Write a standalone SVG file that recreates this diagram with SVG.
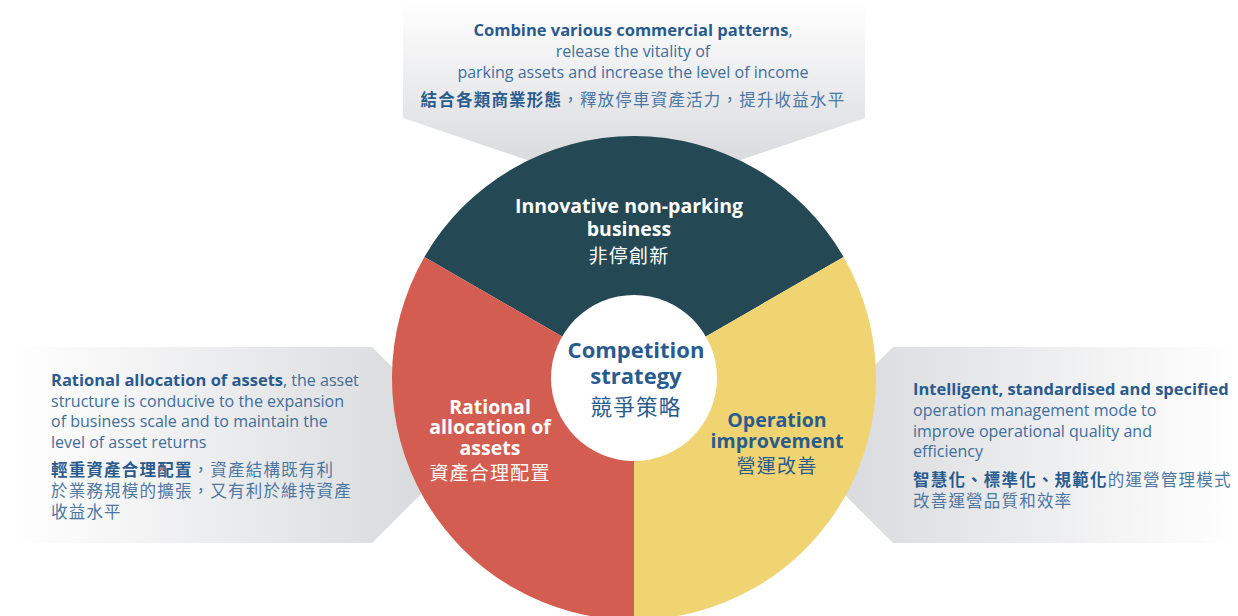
<svg xmlns="http://www.w3.org/2000/svg" width="1238" height="616" viewBox="0 0 1238 616">
<defs>
<linearGradient id="gTop" gradientUnits="userSpaceOnUse" x1="0" y1="0" x2="0" y2="170">
<stop offset="0" stop-color="#ffffff"/><stop offset="1" stop-color="#d8d9dc"/>
</linearGradient>
<linearGradient id="gLeft" gradientUnits="userSpaceOnUse" x1="10" y1="0" x2="460" y2="0">
<stop offset="0" stop-color="#ffffff"/><stop offset="1" stop-color="#d6d7da"/>
</linearGradient>
<linearGradient id="gRight" gradientUnits="userSpaceOnUse" x1="1238" y1="0" x2="800" y2="0">
<stop offset="0" stop-color="#ffffff"/><stop offset="1" stop-color="#d6d7da"/>
</linearGradient>
<style>
.en{font-family:"Open Sans","Noto Sans","Noto Sans CJK TC",sans-serif;}
.zh{font-family:"Noto Sans CJK TC","Noto Sans CJK SC",sans-serif;}
.b{font-weight:bold;}
.bb{font-weight:bold;font-size:16.5px;}
.c{fill:#2a5b8e;}
.cl{fill:#3f6e9c;}
.zl{fill:#4c77a2;}
.w{fill:#ffffff;}
.seg{font-size:19.5px;font-weight:bold;}
.cap{font-size:16px;}
.zc{font-size:16.5px;letter-spacing:1.2px;}
.zs{font-size:19px;letter-spacing:1.2px;}
</style>
</defs>

<g id="callout-top">
<polygon points="403,0 865,0 865,118 634,196 403,118" fill="url(#gTop)"/>
<text class="en cap c" x="633" y="36" text-anchor="middle"><tspan class="bb">Combine various commercial patterns</tspan><tspan class="cl">,</tspan></text>
<text class="en cap cl" x="633" y="57" text-anchor="middle">release the vitality of</text>
<text class="en cap cl" x="633" y="78" text-anchor="middle">parking assets and increase the level of income</text>
<text class="zh zc zl" x="633" y="106" text-anchor="middle"><tspan class="b c">結合各類商業形態</tspan>，釋放停車資產活力，提升收益水平</text>
</g>

<g id="callout-left">
<polygon points="10,347 372,347 470,445 372,543 10,543" fill="url(#gLeft)"/>
<text class="en cap cl" x="51" y="386"><tspan class="bb c">Rational allocation of assets</tspan>, the asset</text>
<text class="en cap cl" x="51" y="406.5">structure is conducive to the expansion</text>
<text class="en cap cl" x="51" y="427">of business scale and to maintain the</text>
<text class="en cap cl" x="51" y="447.5">level of asset returns</text>
<text class="zh zc zl" x="51" y="476"><tspan class="b c">輕重資產合理配置</tspan>，資產結構既有利</text>
<text class="zh zc zl" x="51" y="497">於業務規模的擴張，又有利於維持資產</text>
<text class="zh zc zl" x="51" y="518">收益水平</text>
</g>

<g id="callout-right">
<polygon points="1238,347 893,347 795,445 893,543 1238,543" fill="url(#gRight)"/>
<text class="en bb c" x="913" y="395">Intelligent, standardised and specified</text>
<text class="en cap cl" x="913" y="416">operation management mode to</text>
<text class="en cap cl" x="913" y="436.5">improve operational quality and</text>
<text class="en cap cl" x="913" y="457">efficiency</text>
<text class="zh zc zl" x="913" y="486"><tspan class="b c">智慧化、標準化、規範化</tspan>的運營管理模式</text>
<text class="zh zc zl" x="913" y="507">改善運營品質和效率</text>
</g>

<g id="seg-innovative">
<path d="M634,378 L424.4,257 A242,242 0 0 1 843.6,257 Z" fill="#244955"/>
<text class="en seg w" x="629" y="213" text-anchor="middle">Innovative non-parking</text>
<text class="en seg w" x="629" y="236" text-anchor="middle">business</text>
<text class="zh zs w" x="629" y="263" text-anchor="middle">非停創新</text>
</g>

<g id="seg-operation">
<path d="M634,378 L843.6,257 A242,242 0 0 1 634,620 Z" fill="#f0d471"/>
<text class="en seg c" x="777" y="427" text-anchor="middle">Operation</text>
<text class="en seg c" x="777" y="448" text-anchor="middle">improvement</text>
<text class="zh zs c" x="777" y="473" text-anchor="middle">營運改善</text>
</g>

<g id="seg-rational">
<path d="M634,378 L634,620 A242,242 0 0 1 424.4,257 Z" fill="#d35d50"/>
<text class="en seg w" x="490" y="414" text-anchor="middle">Rational</text>
<text class="en seg w" x="490" y="434" text-anchor="middle">allocation of</text>
<text class="en seg w" x="490" y="455" text-anchor="middle">assets</text>
<text class="zh zs w" x="490" y="480" text-anchor="middle">資產合理配置</text>
</g>

<g id="center">
<circle cx="634" cy="378" r="83" fill="#ffffff"/>
<text class="en c b" x="636" y="358" text-anchor="middle" font-size="22">Competition</text>
<text class="en c b" x="636" y="384" text-anchor="middle" font-size="22">strategy</text>
<text class="zh c" x="636" y="415" text-anchor="middle" font-size="21.5" letter-spacing="1.2">競爭策略</text>
</g>

<g id="connectors"/>
</svg>
